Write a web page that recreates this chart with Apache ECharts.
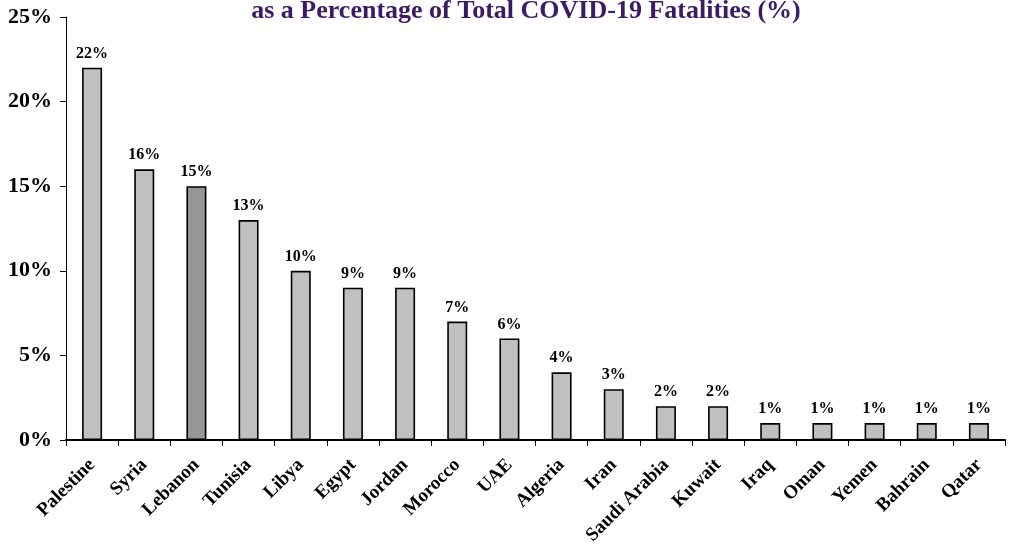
<!DOCTYPE html>
<html>
<head>
<meta charset="utf-8">
<style>
  html, body { margin: 0; padding: 0; background: #fff; }
  #chart { width: 1013px; height: 549px; }
</style>
<script src="https://cdn.jsdelivr.net/npm/echarts@6/dist/echarts.min.js"></script>
</head>
<body>
<div id="chart"></div>
<script>
// Share of COVID-19 fatalities, by country (%)
const countries = ['Palestine', 'Syria', 'Lebanon', 'Tunisia', 'Libya', 'Egypt', 'Jordan', 'Morocco', 'UAE',
  'Algeria', 'Iran', 'Saudi Arabia', 'Kuwait', 'Iraq', 'Oman', 'Yemen', 'Bahrain', 'Qatar'];
const shares = [22, 16, 15, 13, 10, 9, 9, 7, 6, 4, 3, 2, 2, 1, 1, 1, 1, 1];
const highlighted = 'Lebanon';
const titleText = 'as a Percentage of Total COVID-19 Fatalities (%)';

const serif = '"Liberation Serif", "Times New Roman", serif';

const chart = echarts.init(document.getElementById('chart'));
chart.setOption({
  animation: false,
  backgroundColor: '#ffffff',
  title: {
    text: titleText,
    left: 521,
    top: -7,
    textAlign: 'center',
    textStyle: { fontFamily: serif, fontWeight: 'bold', fontSize: 26, color: '#3b1a66' }
  },
  grid: { left: 66, right: 8, top: 17, bottom: 109, containLabel: false },
  xAxis: {
    type: 'category',
    data: countries,
    axisLine: { lineStyle: { color: '#000', width: 2 } },
    axisTick: { show: true, alignWithLabel: false, length: 6, lineStyle: { color: '#000', width: 1 } },
    axisLabel: {
      interval: 0, rotate: 45, margin: 22,
      fontFamily: serif, fontWeight: 'bold', fontSize: 19, color: '#000'
    }
  },
  yAxis: {
    type: 'value',
    min: 0, max: 25, interval: 5,
    axisLine: { show: true, lineStyle: { color: '#000', width: 1 } },
    axisTick: { show: true, length: 6, lineStyle: { color: '#000' } },
    splitLine: { show: false },
    axisLabel: {
      formatter: '{value}%', margin: 14,
      fontFamily: serif, fontWeight: 'bold', fontSize: 22, color: '#000'
    }
  },
  series: [{
    type: 'bar',
    barWidth: 20,
    data: shares.map((v, i) => ({
      value: v,
      itemStyle: { color: countries[i] === highlighted ? '#969696' : '#c0c0c0' }
    })),
    itemStyle: { borderColor: '#000', borderWidth: 1.6 },
    label: {
      show: true, position: 'top', distance: 6, formatter: '{c}%',
      fontFamily: serif, fontWeight: 'bold', fontSize: 16, color: '#000'
    }
  }]
});
</script>
</body>
</html>
